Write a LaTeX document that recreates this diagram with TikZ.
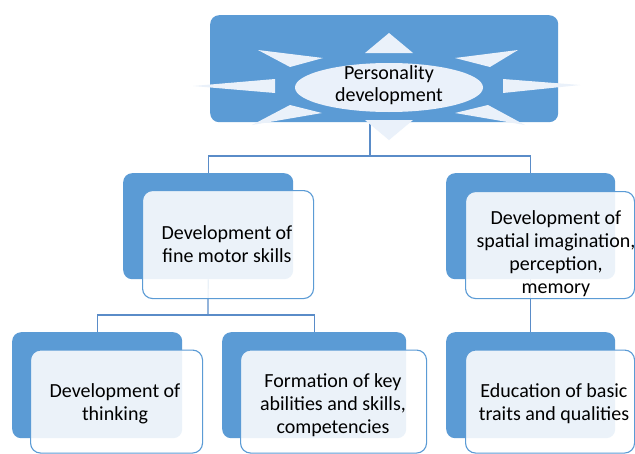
\documentclass[tikz,border=0pt]{standalone}
\usepackage{fontspec}
\setmainfont{Carlito}
\usetikzlibrary{shapes.geometric}
\definecolor{bl}{HTML}{5B9BD5}
\definecolor{lt}{HTML}{EAF1FA}
\definecolor{ln}{HTML}{5A8CC8}
\begin{document}
\begin{tikzpicture}[x=1pt,y=-1pt,
  bluebox/.style={fill=bl, rounded corners=9pt, inner sep=0pt, anchor=north west},
  whitebox/.style={draw=bl, line width=1.1pt, fill=white, fill opacity=0.88, rounded corners=10pt, inner sep=0pt, anchor=north west},
  lbl/.style={align=center, font=\fontsize{20}{23}\selectfont, text=black, inner sep=0pt},
  conn/.style={draw=ln, line width=1.2pt},
  ray/.style={fill=lt}]
\fill[white] (0,0) rectangle (635,453);
\useasboundingbox (0,0) rectangle (635,453);
% connectors
\coordinate (j0) at (370,156);
\coordinate (topc) at (370,122);
\coordinate (j1) at (208,315);
% boxes
\node[bluebox, minimum width=348pt, minimum height=107pt] (top) at (210,15) {};
\node[bluebox, minimum width=170pt, minimum height=106pt] (m1) at (123,173) {};
\node[bluebox, minimum width=169pt, minimum height=106pt] (m2) at (446,173) {};
\node[bluebox, minimum width=170pt, minimum height=106pt] (b1) at (12,332) {};
\node[bluebox, minimum width=184pt, minimum height=106pt] (b2) at (222,332) {};
\node[bluebox, minimum width=169pt, minimum height=106pt] (b3) at (446,332) {};
\draw[conn] (topc) -- (j0);
\draw[conn] (m1.north) -- (m1.north |- j0) -- (m2.north |- j0) -- (m2.north);
\draw[conn] (m1.south) -- (j1);
\draw[conn] (b1.north) -- (b1.north |- j1) -- (b2.north |- j1) -- (b2.north);
\draw[conn] (m2.south) -- (b3.north);
% star rays
\fill[ray] (389,33) -- (413,53) -- (365,53) -- cycle;
\fill[ray] (389,140) -- (413,120) -- (365,120) -- cycle;
\fill[ray] (193,86) -- (275,79) -- (275,93) -- cycle;
\fill[ray] (580,85) -- (503,79) -- (503,93) -- cycle;
\fill[ray] (258,50) -- (323,58) -- (290,67) -- cycle;
\fill[ray] (518,50) -- (455,58) -- (490,67) -- cycle;
\fill[ray] (252,125) -- (290,105) -- (322,113) -- cycle;
\fill[ray] (525,125) -- (488,105) -- (455,113) -- cycle;
\node[ellipse, fill=lt, minimum width=188pt, minimum height=49pt, inner sep=0pt] (ell) at (389,87.5) {};
\node[lbl, font=\fontsize{20}{22}\selectfont] (tt) at (389,85) {Personality\\development};
% white boxes
\node[whitebox, minimum width=171pt, minimum height=108pt] (w1) at (142,190) {};
\node[whitebox, minimum width=169pt, minimum height=107pt] (w2) at (465,191) {};
\node[whitebox, minimum width=172pt, minimum height=103pt] (w3) at (30,349.5) {};
\node[whitebox, minimum width=186pt, minimum height=103pt] (w4) at (240,349.5) {};
\node[whitebox, minimum width=169pt, minimum height=103pt] (w5) at (465,349.5) {};
% labels
\node[lbl] (t1) at (227,244) {Development of\\fine motor skills};
\node[lbl] (t2) at (556,254) {Development of\\spatial imagination,\\perception,\\memory};
\node[lbl] (t3) at (115,404) {Development of\\thinking};
\node[lbl] (t4) at (333,405) {Formation of key\\abilities and skills,\\competencies};
\node[lbl] (t5) at (554,404) {Education of basic\\traits and qualities};
\end{tikzpicture}
\end{document}
